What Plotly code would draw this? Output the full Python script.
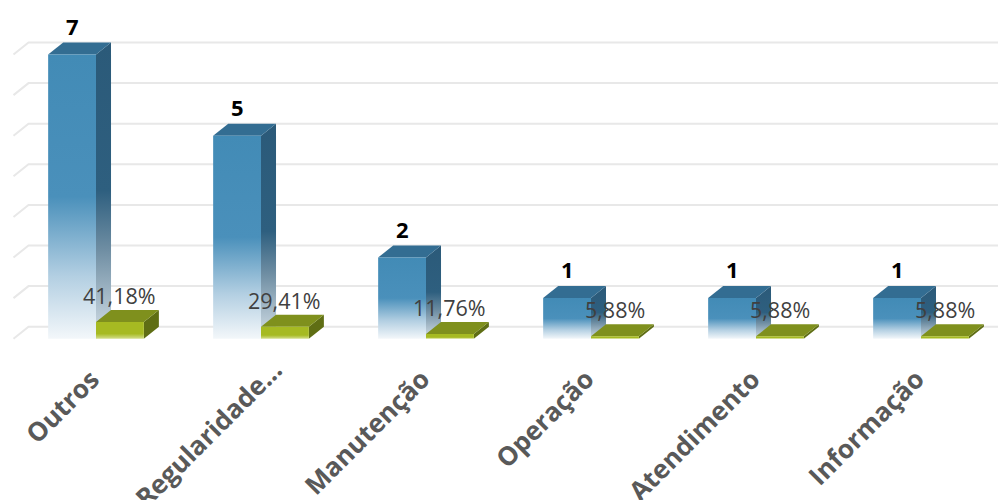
import plotly.graph_objects as go

# ---- data ----
categories = ["Outros", "Regularidade...", "Manutenção", "Operação", "Atendimento", "Informação"]
counts = [7, 5, 2, 1, 1, 1]
percents = [0.4118, 0.2941, 0.1176, 0.0588, 0.0588, 0.0588]
percent_labels = ["41,18%", "29,41%", "11,76%", "5,88%", "5,88%", "5,88%"]
grid_values = [0, 1, 2, 3, 4, 5, 6, 7]

# ---- style / geometry (data units) ----
PAGE_OFF = 8          # default body margin of the html page
W = 0.29              # bar face width
DX = 0.091            # depth offset x
DY = 0.296            # depth offset y
PX_PER_CAT = 165.0
X0_PX = 96 - PAGE_OFF
X_RANGE = [-X0_PX / PX_PER_CAT, (1006 - X0_PX) / PX_PER_CAT]
PLOT_H = 350
PX_PER_UNIT = 40.6
Y_TOP = (326.7 - PAGE_OFF) / PX_PER_UNIT
Y_RANGE = [Y_TOP - PLOT_H / PX_PER_UNIT, Y_TOP]
LABEL_SHIFT = (12, -2)                       # default offset of rotated category labels
LABEL_NUDGE = {"Regularidade...": (18, 10)}  # the truncated label sits a bit apart

BLUE_FRONT = [[0, "#f3f7fa"], [0.22, "#b3cfe2"], [0.5, "#4a90bb"], [1, "#428bb6"]]
BLUE_SIDE = [[0, "#d5e0e8"], [0.3, "#6f8ea3"], [0.5, "#2e5f7f"], [1, "#2b5a79"]]
BLUE_TOP = "#336d92"
GREEN_FRONT = [[0, "#d3de8a"], [0.3, "#a6ba22"], [1, "#a6ba22"]]
GREEN_SIDE = "#5f6e14"
GREEN_TOP = "#7f901d"

fig = go.Figure()

def poly(xs, ys, color=None, gradient=None):
    kw = dict(x=xs + [xs[0]], y=ys + [ys[0]], mode="lines", fill="toself",
              line=dict(width=0), hoverinfo="skip", showlegend=False)
    if gradient is not None:
        kw["fillgradient"] = dict(type="vertical", colorscale=gradient)
        kw["fillcolor"] = gradient[-1][1]
    else:
        kw["fillcolor"] = color
    fig.add_trace(go.Scatter(**kw))

# gridlines (back wall + side wall slant)
for g in grid_values:
    fig.add_trace(go.Scatter(
        x=[-0.5, -0.5 + DX, X_RANGE[1] + 0.1], y=[g - DY, g, g],
        mode="lines", line=dict(color="#e8e8e8", width=2),
        hoverinfo="skip", showlegend=False))

def box(x0, v, front_grad=None, front_color=None, side=None, side_color=None, top=None):
    x1 = x0 + W
    # side face
    poly([x1, x1, x1 + DX, x1 + DX], [-DY, v - DY, v, 0],
         color=side_color, gradient=side)
    # top face
    poly([x0, x1, x1 + DX, x0 + DX], [v - DY, v - DY, v, v], color=top)
    # front face
    poly([x0, x1, x1, x0], [-DY, -DY, v - DY, v - DY],
         color=front_color, gradient=front_grad)

for i, (c, p) in enumerate(zip(counts, percents)):
    box(i - W, c, front_grad=BLUE_FRONT, side=BLUE_SIDE, top=BLUE_TOP)
    box(i, p, front_grad=GREEN_FRONT, side_color=GREEN_SIDE, top=GREEN_TOP)
    fig.add_annotation(x=i - W / 2, y=c, text=str(c), showarrow=False,
                       yanchor="bottom", yshift=0,
                       font=dict(family="Open Sans", size=22, color="#000000", weight=700))
    fig.add_annotation(x=i + W / 2, y=p, text=percent_labels[i], showarrow=False,
                       yanchor="bottom", yshift=-2,
                       font=dict(family="Open Sans", size=21.5, color="#404040"))

# rotated category labels
for i, cat in enumerate(categories):
    nx, ny = LABEL_NUDGE.get(cat, (0, 0))
    fig.add_annotation(x=i, xref="x", y=0, yref="paper", text=cat, showarrow=False,
                       textangle=-45, xanchor="right", yanchor="top",
                       xshift=LABEL_SHIFT[0] + nx, yshift=LABEL_SHIFT[1] + ny,
                       borderpad=0,
                       font=dict(family="Open Sans", size=26, color="#595959", weight=700))

fig.update_layout(
    width=1006, height=500,
    margin=dict(l=0, r=0, t=0, b=500 - PLOT_H),
    paper_bgcolor="white", plot_bgcolor="white",
    xaxis=dict(range=X_RANGE, visible=False, showgrid=False, zeroline=False),
    yaxis=dict(range=Y_RANGE, visible=False, showgrid=False, zeroline=False),
)

fig.write_html("out.html")
